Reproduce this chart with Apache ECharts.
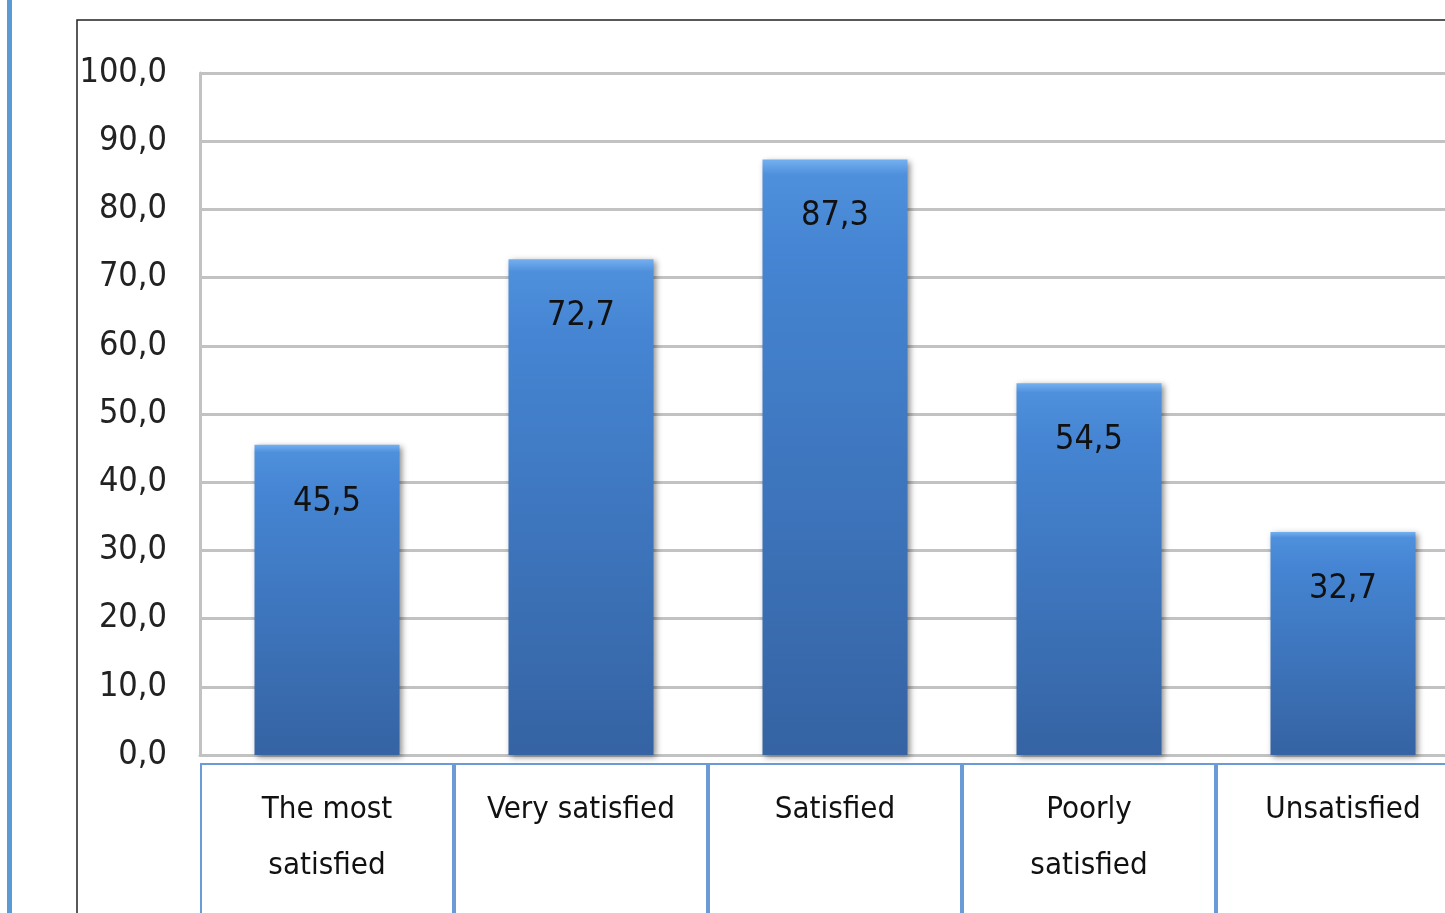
<!DOCTYPE html>
<html>
<head>
<meta charset="utf-8">
<script src="https://cdn.jsdelivr.net/npm/echarts@6/dist/echarts.min.js"></script>
<style>
  html, body { margin: 0; padding: 0; background: #fff; }
  #chart { width: 1445px; height: 913px; }
</style>
</head>
<body>
<div id="chart"></div>
<script>
// data
var categories = ['The most\nsatisfied', 'Very satisfied', 'Satisfied', 'Poorly\nsatisfied', 'Unsatisfied']
var values = [45.5, 72.7, 87.3, 54.5, 32.7]
var yTicks = { min: 0, max: 100, step: 10 }

var font = '"DejaVu Sans Condensed", "Liberation Sans", sans-serif'
function comma (v) {
  return Number(v).toFixed(1).replace('.', ',')
}

var chart = echarts.init(document.getElementById('chart'))
chart.setOption({
  backgroundColor: '#fff',
  animation: false,
  graphic: [
    { type: 'rect', shape: { x: 7, y: 0, width: 5, height: 913 }, style: { fill: '#5b9bd5' } },
    { type: 'rect', shape: { x: 77, y: 20, width: 1420, height: 960 }, style: { fill: 'none', stroke: '#222', lineWidth: 1.5 } }
  ],
  grid: {
    left: 200,
    top: 73,
    width: 1270,
    height: 682,
    containLabel: false,
    outerBoundsMode: 'none'
  },
  xAxis: {
    type: 'category',
    data: categories,
    axisLine: { show: true, lineStyle: { color: '#c2c2c2', width: 3 } },
    axisTick: { show: false },
    axisLabel: {
      interval: 0,
      margin: 9,
      fontFamily: font,
      fontSize: 31,
      color: '#111',
      width: 252,
      height: 150,
      lineHeight: 56,
      align: 'center',
      verticalAlign: 'top',
      padding: [18, 0, 0, 0],
      borderColor: '#6b9bd6',
      borderWidth: 2
    }
  },
  yAxis: {
    type: 'value',
    min: yTicks.min,
    max: yTicks.max,
    interval: yTicks.step,
    axisLine: { show: true, lineStyle: { color: '#c2c2c2', width: 3 } },
    axisTick: { show: false },
    axisLabel: {
      margin: 33,
      fontFamily: font,
      fontSize: 34,
      color: '#222',
      formatter: comma
    },
    splitLine: { lineStyle: { color: '#c2c2c2', width: 3 } }
  },
  series: [
    {
      type: 'bar',
      data: values,
      barWidth: 145,
      itemStyle: {
        color: new echarts.graphic.LinearGradient(0, 0, 0, 1, [
          { offset: 0, color: '#74b0f0' },
          { offset: 0.025, color: '#4f90dc' },
          { offset: 0.15, color: '#4585d3' },
          { offset: 1, color: '#3563a3' }
        ]),
        shadowColor: 'rgba(0,0,0,0.45)',
        shadowBlur: 6,
        shadowOffsetX: 2,
        shadowOffsetY: 2
      },
      label: {
        show: true,
        position: 'insideTop',
        distance: 40,
        fontFamily: font,
        fontSize: 34,
        color: '#111',
        formatter: function (p) { return comma(p.value) }
      }
    }
  ]
})
</script>
</body>
</html>
